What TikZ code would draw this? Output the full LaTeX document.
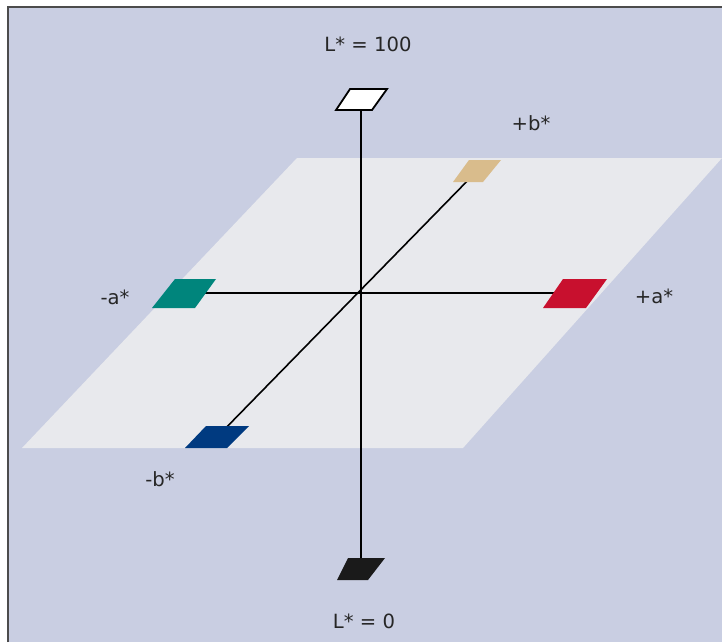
\documentclass[tikz,border=0pt]{standalone}
\usepackage{fontspec}
\setmainfont{DejaVu Sans}
\usepackage{tikz}
\usetikzlibrary{positioning, calc}
\usepackage{xcolor}
\definecolor{bglavender}{HTML}{C9CEE2}
\definecolor{planegray}{HTML}{E8E9ED}
\definecolor{patchteal}{HTML}{00857C}
\definecolor{patchred}{HTML}{C8102E}
\definecolor{patchblue}{HTML}{003A80}
\definecolor{patchtan}{HTML}{D9BC8C}
\definecolor{patchblack}{HTML}{1A1A1A}

\tikzset{
    axisline/.style={draw=black, line width=0.8pt},
    patch/.style={line join=miter},
    axislabel/.style={font=\fontsize{9.8}{11}\selectfont, text=black!85, inner sep=1pt}
}

\begin{document}
\begin{tikzpicture}[x=0.5pt, y=-0.5pt]
    \useasboundingbox (0,0) rectangle (722,642);
    % background and frame
    \fill[bglavender] (8,7) rectangle (722,642);
    \draw[black!70, line width=1pt] (8,642) -- (8,7) -- (722,7);

    % a*b* plane
    \fill[planegray] (22,448) -- (463,448) -- (722,158) -- (297,158) -- cycle;

    % named points
    \coordinate (centre) at (360,293);
    \coordinate (white) at (361,100);
    \coordinate (black) at (361,569);
    \coordinate (teal) at (184,293);
    \coordinate (red) at (575,293);
    \coordinate (tan) at (477,171);
    \coordinate (blue) at (217,437);

    % axes
    \draw[axisline] (white) -- (black);
    \draw[axisline] (teal) -- (red);
    \draw[axisline] (blue) -- (tan);

    % colour patches
    \filldraw[patch, fill=white, draw=black, line width=0.9pt] (336,110) -- (372,110) -- (387,89) -- (350,89) -- cycle;
    \fill[patch, patchtan] (453,182) -- (483,182) -- (501,160) -- (469,160) -- cycle;
    \fill[patch, patchteal] (152,308) -- (195,308) -- (216,279) -- (175,279) -- cycle;
    \fill[patch, patchred] (543,308) -- (586,308) -- (607,279) -- (563,279) -- cycle;
    \fill[patch, patchblue] (185,448) -- (227,448) -- (249,426) -- (206,426) -- cycle;
    \fill[patch, patchblack] (337,580) -- (368,580) -- (385,558) -- (348,558) -- cycle;

    % labels
    \node[axislabel] (ltop) at (368,44) {L* = 100};
    \node[axislabel] (bplus) at (531,123) {+b*};
    \node[axislabel] (aminus) at (115,297) {-a*};
    \node[axislabel] (aplus) at (654,296) {+a*};
    \node[axislabel] (bminus) at (160,479) {-b*};
    \node[axislabel] (lbottom) at (364,621) {L* = 0};
\end{tikzpicture}
\end{document}
